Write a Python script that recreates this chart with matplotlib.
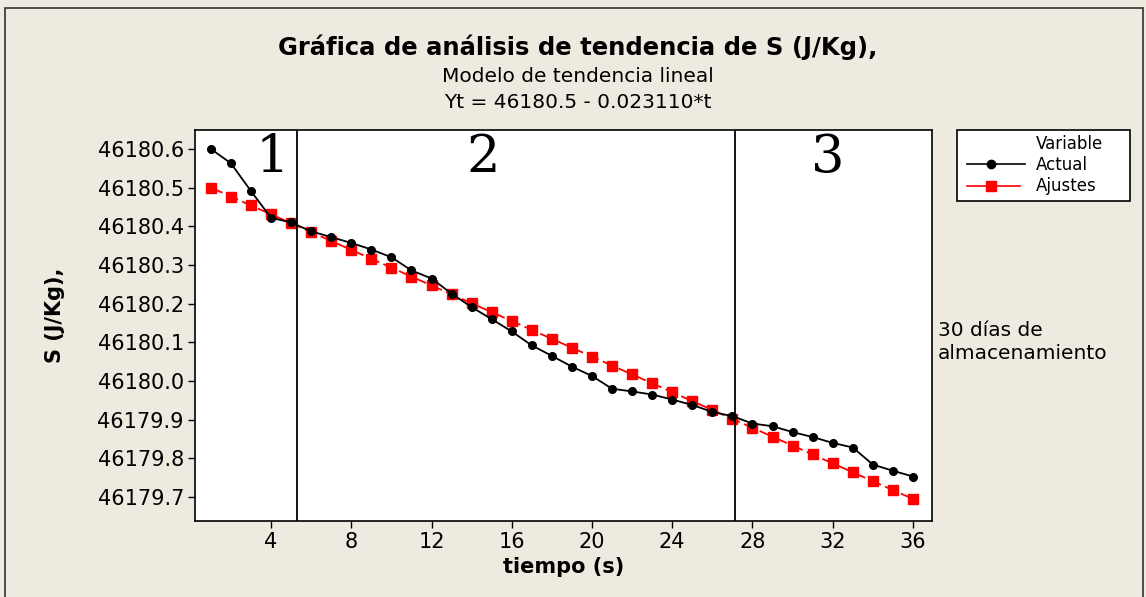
import matplotlib
matplotlib.use("Agg")
import matplotlib.pyplot as plt
from matplotlib.patches import Rectangle
from matplotlib.lines import Line2D

# Observed entropy values S (J/Kg) per time index
t = list(range(1, 37))
actual = [
    46180.600, 46180.563, 46180.491, 46180.422, 46180.410, 46180.387,
    46180.372, 46180.357, 46180.340, 46180.320, 46180.286, 46180.265,
    46180.226, 46180.191, 46180.160, 46180.128, 46180.092, 46180.065,
    46180.037, 46180.013, 46179.980, 46179.973, 46179.965, 46179.952,
    46179.938, 46179.920, 46179.909, 46179.890, 46179.883, 46179.868,
    46179.855, 46179.840, 46179.828, 46179.784, 46179.768, 46179.753,
]
# Fitted values of the linear trend model
ajustes = [
    46180.500, 46180.477, 46180.454, 46180.431, 46180.408, 46180.385,
    46180.362, 46180.339, 46180.316, 46180.293, 46180.270, 46180.247,
    46180.224, 46180.201, 46180.178, 46180.155, 46180.132, 46180.109,
    46180.086, 46180.063, 46180.040, 46180.017, 46179.994, 46179.971,
    46179.948, 46179.925, 46179.902, 46179.879, 46179.856, 46179.833,
    46179.810, 46179.787, 46179.764, 46179.741, 46179.718, 46179.695,
]
yticks = [46180.6, 46180.5, 46180.4, 46180.3, 46180.2, 46180.1,
          46180.0, 46179.9, 46179.8, 46179.7]
xticks = [4, 8, 12, 16, 20, 24, 28, 32, 36]
stage_bounds = [5.3, 27.15]
stage_labels = [("1", 4.05), ("2", 14.6), ("3", 31.75)]

W, H = 1146, 597
bg = "#EEEAE0"
fig = plt.figure(figsize=(W / 100, H / 100), dpi=100, facecolor=bg)
plt.rcParams["font.family"] = ["DejaVu Sans"]

# outer frame
fig.add_artist(Rectangle((5 / W, -0.01), 1138 / W, 1 - 8 / H + 0.01,
                         transform=fig.transFigure, fill=False,
                         edgecolor="#333333", linewidth=1.2))

ax = fig.add_axes([195 / W, 1 - 521 / H, (932 - 195) / W, (521 - 130) / H])
ax.set_facecolor("white")

ax.plot(t, actual, color="black", linewidth=1.3, marker="o",
        markersize=5.5, zorder=3)
ax.plot(t, ajustes, color="red", linewidth=1.3, linestyle=(0, (7, 2.5)),
        marker="s", markersize=7.5, zorder=2)

for xb in stage_bounds:
    ax.axvline(xb, color="black", linewidth=1.3, zorder=4)
for lab, xp in stage_labels:
    ax.text(xp, 46180.577, lab, fontsize=38, family="DejaVu Serif",
            ha="center", va="center", zorder=5)

ax.set_xlim(0.21, 36.95)
ax.set_ylim(46179.638, 46180.649)
ax.set_xticks(xticks)
ax.set_yticks(yticks)
ax.set_yticklabels([f"{v:.1f}" for v in yticks])
ax.tick_params(axis="both", labelsize=15, length=5, width=1, direction="out",
               pad=3)
for s in ax.spines.values():
    s.set_linewidth(1.2)

ax.set_xlabel("tiempo (s)", fontsize=15, fontweight="bold", va="center")
ax.xaxis.set_label_coords(0.5, (521 - 567) / 391)
ax.set_ylabel("S (J/Kg),", fontsize=15, fontweight="bold", va="center")
ax.yaxis.set_label_coords((55 - 195) / 737, (521 - 315) / 391)

fig.text(578 / W, 1 - 47 / H, "Gráfica de análisis de tendencia de S (J/Kg),",
         fontsize=17.5, fontweight="bold", ha="center", va="center")
fig.text(578 / W, 1 - 77 / H, "Modelo de tendencia lineal",
         fontsize=14.5, ha="center", va="center")
fig.text(578 / W, 1 - 103 / H, "Yt = 46180.5 - 0.023110*t",
         fontsize=14.5, ha="center", va="center")

fig.text(938 / W, 1 - 342 / H, "30 días de\nalmacenamiento", fontsize=14.5,
         ha="left", va="center", linespacing=1.3)

# legend box
fig.add_artist(Rectangle((957 / W, 1 - 201 / H), (1130 - 957) / W, 71 / H,
                         transform=fig.transFigure, facecolor="white",
                         edgecolor="black", linewidth=1.2))
fig.text(1036 / W, 1 - 144 / H, "Variable", fontsize=12, ha="left", va="center")
fig.text(1036 / W, 1 - 165 / H, "Actual", fontsize=12, ha="left", va="center")
fig.text(1036 / W, 1 - 186 / H, "Ajustes", fontsize=12, ha="left", va="center")
fig.add_artist(Line2D([967 / W, 1025 / W], [1 - 164 / H] * 2,
                      transform=fig.transFigure, color="black", linewidth=1.2))
fig.add_artist(Line2D([991 / W], [1 - 164 / H], transform=fig.transFigure,
                      color="black", marker="o", markersize=6, linestyle="none"))
fig.add_artist(Line2D([967 / W, 1020 / W], [1 - 186 / H] * 2,
                      transform=fig.transFigure, color="red", linewidth=1.2))
fig.add_artist(Line2D([991 / W], [1 - 186 / H], transform=fig.transFigure,
                      color="red", marker="s", markersize=7,
                      linestyle="none"))

fig.savefig("out.png", dpi=100, facecolor=bg)
